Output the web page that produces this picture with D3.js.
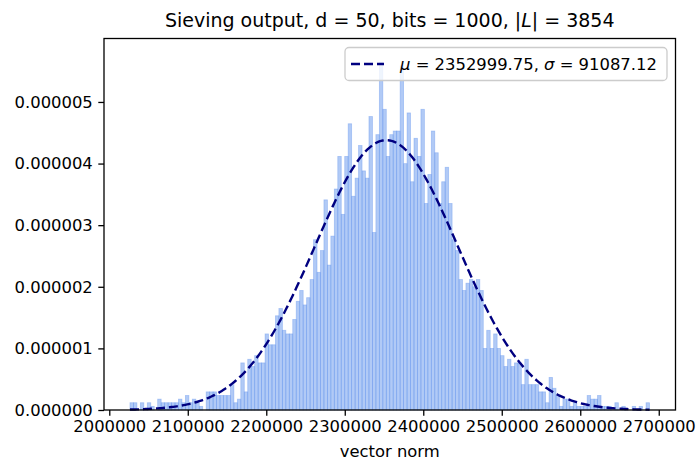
<!DOCTYPE html>
<html><head><meta charset="utf-8">
<script src="https://cdn.jsdelivr.net/npm/d3@7"></script>
<style>body{margin:0;background:#fff}svg{display:block}text{font-family:"DejaVu Sans",sans-serif;fill:#000}</style>
</head><body>
<script>
// ---- data ----
const N = 3854;
const mu = 2352999.75;
const sigma = 91087.12;
const dataMin = 2026373;
const dataMax = 2688240;
const nBins = 150;
const counts = [
 2,2,0,2,0,2,1,0,3,2, 2,2,2,2,3,2,4,2,3,2, 1,0,5,5,5,4,4,4,4,7, 2,3,13,5,14,12,15,13,13,21,
 18,18,26,28,22,21,21,25,30,33, 29,31,36,47,38,44,58,40,48,61, 70,54,70,
 79,59,64,73,66,64,81,49,76,96, 83,70,76,77,77,95,68,82,63,75, 70,83,57,65,77,71,57,63,67,57,
 47,44,36,33,35,36,34,36,33,
 17,22,17,21,17,15,12,14,12,13, 13,7,14,7,7,7,5,5,2,9, 6,4,1,3,3,1,2,1,1,1,
 4,3,3,4,1,1,1,0,2,0,1,0,0,1,0,1,0,2
];
const xTicks = [2000000,2100000,2200000,2300000,2400000,2500000,2600000,2700000];
const yTicks = [0,0.000001,0.000002,0.000003,0.000004,0.000005];

// ---- layout ----
const W = 697, H = 461;
const L = 104, R = 675.5, T = 38.5, B = 410;
const svg = d3.select("body").append("svg").attr("width", W).attr("height", H);

const binW = (dataMax - dataMin) / nBins;
const pad = (dataMax - dataMin) * 0.05;
const x = d3.scaleLinear().domain([dataMin - pad, dataMax + pad]).range([L, R]);
const y = d3.scaleLinear().domain([0, 6.03e-6]).range([B, T]);

const bins = counts.map((c, i) => ({x0: dataMin + i * binW, x1: dataMin + (i + 1) * binW, d: c / (N * binW)}));

svg.append("g").selectAll("rect").data(bins).join("rect")
  .attr("x", d => x(d.x0)).attr("width", d => x(d.x1) - x(d.x0))
  .attr("y", d => y(d.d)).attr("height", d => y(0) - y(d.d))
  .attr("fill", "rgba(100,149,237,0.5)")
  .attr("stroke", "rgba(100,149,237,0.45)").attr("stroke-width", 0.8);

// fitted normal pdf
const pdf = v => Math.exp(-0.5 * ((v - mu) / sigma) ** 2) / (sigma * Math.sqrt(2 * Math.PI));
const xs = d3.range(0, 301).map(i => dataMin + (dataMax - dataMin) * i / 300);
svg.append("path").datum(xs)
  .attr("d", d3.line().x(v => x(v)).y(v => y(pdf(v))))
  .attr("fill", "none").attr("stroke", "#000080").attr("stroke-width", 2.4)
  .attr("stroke-dasharray", "9,4");

// axes
const fs = 16.4;
const xAxis = d3.axisBottom(x).tickValues(xTicks).tickFormat(d3.format("d")).tickSize(5.7).tickPadding(4.5);
const gx = svg.append("g").attr("transform", `translate(0,${B})`).call(xAxis);
const yAxis = d3.axisLeft(y).tickValues(yTicks).tickFormat(d => d.toFixed(6)).tickSize(5.7).tickPadding(5.5);
const gy = svg.append("g").attr("transform", `translate(${L},0)`).call(yAxis);
[gx, gy].forEach(g => {
  g.select(".domain").remove();
  g.selectAll("line").attr("stroke", "#000").attr("stroke-width", 1.3);
  g.selectAll("text").attr("font-family", "DejaVu Sans").attr("font-size", fs).attr("fill", "#000");
});

// spines
svg.append("rect").attr("x", L).attr("y", T).attr("width", R - L).attr("height", B - T)
  .attr("fill", "none").attr("stroke", "#000").attr("stroke-width", 1.3);

// legend
const lg = svg.append("g");
lg.append("rect").attr("x", 345).attr("y", 47.5).attr("width", 322).attr("height", 33).attr("rx", 4)
  .attr("fill", "rgba(255,255,255,0.8)").attr("stroke", "#cccccc").attr("stroke-width", 1.3);
lg.append("line").attr("x1", 351).attr("x2", 384).attr("y1", 64).attr("y2", 64)
  .attr("stroke", "#000080").attr("stroke-width", 2.4).attr("stroke-dasharray", "9,4");
const lt = lg.append("text").attr("x", 400).attr("y", 70).attr("font-size", fs);
lt.append("tspan").attr("font-style", "italic").text("μ");
lt.append("tspan").text(" = 2352999.75, ");
lt.append("tspan").attr("font-style", "italic").text("σ");
lt.append("tspan").text(" = 91087.12");

// title
const tt = svg.append("text").attr("x", (L + R) / 2).attr("y", 27).attr("text-anchor", "middle").attr("font-size", 19);
tt.append("tspan").text("Sieving output, d = 50, bits = 1000, |");
tt.append("tspan").attr("font-style", "italic").text("L");
tt.append("tspan").text("| = 3854");

// x label
svg.append("text").attr("x", (L + R) / 2).attr("y", 457).attr("text-anchor", "middle").attr("font-size", fs).text("vector norm");
</script>
</body></html>
